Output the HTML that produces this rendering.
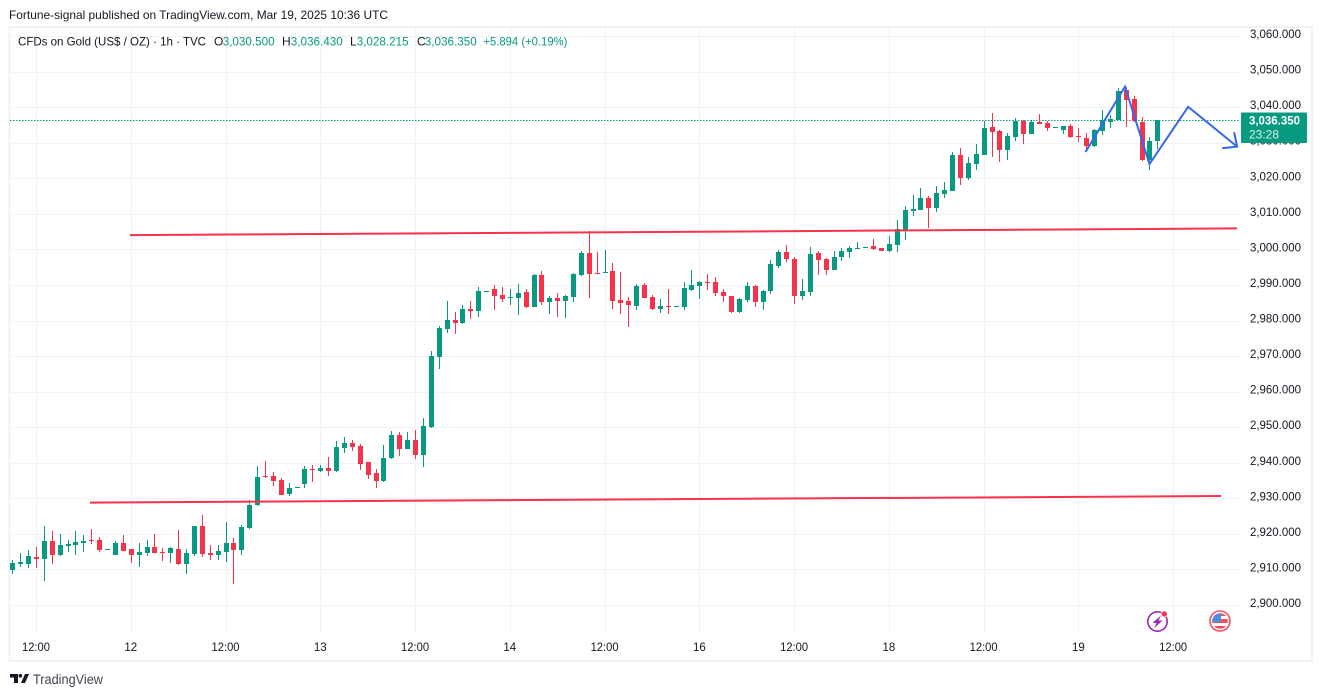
<!DOCTYPE html>
<html lang="en">
<head>
<meta charset="utf-8">
<title>CFDs on Gold 1h chart</title>
<style>
html,body{margin:0;padding:0;background:#fff;width:1322px;height:697px;overflow:hidden}
svg{display:block;font-family:"Liberation Sans",sans-serif}
text{fill:#131722}
</style>
</head>
<body>
<svg id="chart" width="1322" height="697" viewBox="0 0 1322 697" xmlns="http://www.w3.org/2000/svg">
  <rect x="0" y="0" width="1322" height="697" fill="#ffffff"/>
  <text x="9" y="19" font-size="12" textLength="379" lengthAdjust="spacingAndGlyphs">Fortune-signal published on TradingView.com, Mar 19, 2025 10:36 UTC</text>
  <rect x="9.5" y="27" width="1302.5" height="634" fill="none" stroke="#f0f2f5" stroke-width="2"/>
  <g id="grid"></g>
  <g id="priceAxis"></g>
  <g id="timeAxis"></g>
  <g id="lastLine"></g>
  <g id="candles"></g>
  <g id="drawings"></g>
  <g id="lastTag"></g>

  <g font-size="12">
    <text x="18" y="45.5" textLength="188" lengthAdjust="spacingAndGlyphs">CFDs on Gold (US$ / OZ) · 1h · TVC</text>
    <text x="214" y="45.5">O</text>
    <text x="222.7" y="45.5" style="fill:#089981" textLength="52" lengthAdjust="spacingAndGlyphs">3,030.500</text>
    <text x="282" y="45.5">H</text>
    <text x="290.8" y="45.5" style="fill:#089981" textLength="52" lengthAdjust="spacingAndGlyphs">3,036.430</text>
    <text x="350" y="45.5">L</text>
    <text x="356.7" y="45.5" style="fill:#089981" textLength="52" lengthAdjust="spacingAndGlyphs">3,028.215</text>
    <text x="417" y="45.5">C</text>
    <text x="424.8" y="45.5" style="fill:#089981" textLength="52" lengthAdjust="spacingAndGlyphs">3,036.350</text>
    <text x="483.4" y="45.5" style="fill:#089981" textLength="84" lengthAdjust="spacingAndGlyphs">+5.894 (+0.19%)</text>
  </g>

  <g>
    <circle cx="1157.5" cy="621.5" r="9.7" fill="#fff" stroke="#9c27b0" stroke-width="1.6"/>
    <polygon points="1161,615.5 1152.5,623 1156.5,623 1154.5,628 1162.5,620.5 1158.5,620.5" fill="#9c27b0"/>
    <circle cx="1164.3" cy="614" r="3" fill="#f6334a" stroke="#fff" stroke-width="0.6"/>
  </g>
  <g>
    <clipPath id="flagClip"><circle cx="1220" cy="621" r="7.8"/></clipPath>
    <circle cx="1220" cy="621" r="10" fill="#fff" stroke="#f6505f" stroke-width="1.6"/>
    <g clip-path="url(#flagClip)">
      <rect x="1212" y="613" width="16" height="3" fill="#f6505f"/>
      <rect x="1212" y="619" width="16" height="4" fill="#f6505f"/>
      <rect x="1212" y="626" width="16" height="4" fill="#f6505f"/>
      <rect x="1212" y="613" width="9" height="9" fill="#4a90e2"/>
    </g>
  </g>

  <g>
    <polygon points="10,674 18,674 18,683 14,683 14,677.5 10,677.5" fill="#131722"/>
    <circle cx="20.4" cy="675.8" r="1.8" fill="#131722"/>
    <polygon points="25,674 29,674 25,683 21,683" fill="#131722"/>
    <text x="33" y="684" font-size="13.5" style="fill:#3f4450" textLength="70" lengthAdjust="spacingAndGlyphs">TradingView</text>
  </g>
</svg>
<script>
const opens=[2909.8,2911.5,2911.5,2913.5,2912.9,2918.0,2914.1,2916.6,2916.9,2917.4,
2918.3,2918.3,2915.5,2914.1,2917.4,2915.7,2914.1,2914.6,2916.3,2914.9,
2914.6,2915.7,2911.5,2914.3,2922.2,2914.6,2914.1,2914.9,2917.4,2915.5,
2921.7,2928.1,2936.3,2936.3,2935.2,2931.2,2932.9,2934.0,2938.2,2937.7,
2938.5,2937.7,2944.2,2945.6,2944.7,2940.2,2937.1,2934.9,2941.3,2947.8,
2943.9,2946.4,2942.2,2950.1,2969.7,2977.6,2980.1,2979.3,2983.2,2982.7,
2988.0,2988.9,2987.2,2986.3,2986.3,2988.0,2983.8,2992.8,2985.2,2986.3,
2985.5,2986.6,2992.8,2999.0,2993.4,2993.4,2993.9,2985.8,2985.5,2984.1,
2990.0,2986.6,2983.2,2984.1,2983.8,2983.8,2988.6,2989.7,2990.8,2990.8,
2988.0,2986.9,2982.4,2985.8,2989.7,2985.2,2988.3,2995.3,2999.3,2997.3,
2986.9,2988.0,2999.0,2997.3,2994.2,2997.9,2999.3,3000.1,3000.4,3000.9,
3000.4,2999.5,3001.2,3005.4,3010.8,3011.1,3014.4,3011.6,3015.6,3016.4,
3026.5,3020.1,3024.0,3026.5,3034.4,3033.3,3027.9,3031.6,3036.1,3032.4,
3035.8,3035.5,3034.1,3033.6,3034.7,3031.9,3031.3,3029.1,3033.3,3035.8,
3036.4,3044.8,3042.3,3035.8,3025.1,3030.5];
const highs=[2912.7,2914.6,2915.5,2916.3,2922.2,2920.8,2920.0,2918.3,2920.8,2919.7,
2921.4,2919.1,2915.8,2918.0,2919.7,2915.7,2917.4,2918.3,2920.0,2916.0,
2916.3,2921.1,2915.7,2922.2,2925.3,2916.9,2916.9,2923.3,2918.8,2922.5,
2929.5,2939.1,2940.5,2937.4,2935.7,2934.3,2933.2,2939.1,2939.4,2939.4,
2941.6,2946.1,2947.2,2946.4,2945.3,2940.2,2938.2,2945.0,2948.9,2948.6,
2948.6,2949.2,2952.6,2971.4,2978.5,2985.5,2982.4,2984.4,2985.5,2989.4,
2988.3,2990.0,2989.4,2988.9,2990.3,2988.9,2993.1,2993.9,2986.9,2987.7,
2987.2,2993.4,2999.5,3005.2,2999.3,2999.8,2996.2,2993.6,2986.6,2990.3,
2990.5,2987.2,2986.0,2988.9,2984.1,2990.8,2994.2,2991.1,2993.1,2992.2,
2988.9,2986.9,2986.3,2990.8,2990.0,2988.6,2997.0,2999.8,3001.2,2997.9,
2991.7,3000.7,2999.5,2997.6,2999.5,3000.4,3000.9,3002.1,3000.7,3002.9,
3000.4,3003.8,3008.3,3012.2,3015.3,3017.3,3015.0,3017.8,3018.9,3027.4,
3028.5,3026.0,3029.6,3036.1,3038.3,3033.6,3032.7,3036.9,3036.4,3036.4,
3038.1,3036.1,3034.4,3034.7,3035.3,3034.1,3032.7,3033.8,3039.2,3037.8,
3045.4,3045.7,3043.1,3037.2,3031.7,3036.43];
const lows=[2908.7,2910.7,2910.4,2910.4,2906.8,2911.5,2913.8,2914.9,2914.1,2914.9,
2917.2,2914.9,2915.5,2914.1,2915.2,2911.8,2910.7,2913.8,2914.6,2912.4,
2911.8,2911.3,2908.7,2913.8,2913.5,2912.7,2912.7,2912.1,2905.9,2914.1,
2921.4,2927.8,2935.7,2933.5,2930.9,2930.7,2932.9,2932.9,2934.6,2937.4,
2936.3,2937.4,2942.7,2943.3,2938.0,2935.4,2932.9,2934.6,2941.1,2941.9,
2943.9,2941.1,2938.8,2949.8,2966.4,2976.5,2976.2,2979.0,2980.4,2981.0,
2988.0,2983.0,2985.2,2984.4,2981.5,2983.5,2983.8,2984.4,2981.8,2981.0,
2980.7,2985.2,2992.5,2986.3,2993.1,2993.4,2983.2,2981.8,2978.2,2983.0,
2986.3,2983.0,2982.1,2981.8,2983.8,2983.0,2988.3,2986.0,2988.6,2986.9,
2985.2,2982.1,2982.1,2985.2,2983.8,2983.0,2987.5,2994.8,2996.4,2984.6,
2985.8,2986.9,2992.8,2992.8,2994.2,2996.7,2997.6,3000.1,3000.4,2999.8,
2999.5,2999.3,2999.3,3002.6,3009.4,3011.1,3006.0,3010.5,3014.4,3016.4,
3018.1,3019.5,3022.3,3026.5,3026.0,3024.6,3025.1,3030.5,3029.6,3032.4,
3035.3,3033.3,3034.1,3032.4,3031.3,3030.2,3027.4,3028.9,3032.2,3034.1,
3036.4,3034.5,3035.8,3024.9,3022.3,3028.215];
const closes=[2911.8,2912.1,2913.8,2912.9,2918.0,2914.1,2916.9,2917.2,2917.7,2918.0,
2918.1,2915.5,2915.8,2917.4,2915.2,2914.1,2914.9,2916.3,2914.6,2914.7,
2916.0,2911.5,2914.6,2922.2,2914.3,2914.1,2915.2,2917.4,2915.5,2921.9,
2928.1,2936.0,2936.0,2934.9,2930.9,2932.9,2933.2,2938.2,2938.0,2938.5,
2937.7,2944.4,2945.6,2944.4,2939.7,2936.6,2934.9,2941.3,2947.8,2943.9,
2946.4,2942.2,2950.3,2970.0,2977.9,2980.1,2979.3,2983.2,2982.7,2988.3,
2988.3,2986.9,2986.0,2986.6,2987.7,2983.8,2992.8,2985.2,2986.3,2985.5,
2986.9,2993.1,2999.0,2993.1,2993.1,2993.6,2985.5,2984.9,2984.4,2989.7,
2986.3,2983.2,2984.1,2983.8,2984.1,2989.1,2990.0,2990.8,2990.5,2987.7,
2986.9,2982.4,2986.0,2989.7,2985.2,2988.3,2995.9,2999.3,2997.3,2986.9,
2988.3,2998.7,2997.0,2994.2,2997.9,2999.5,3000.4,3000.4,3000.7,3000.1,
2999.5,3001.5,3005.7,3011.1,3011.4,3014.4,3011.6,3015.8,3016.7,3026.5,
3020.1,3024.3,3026.8,3034.1,3033.0,3027.9,3031.9,3036.1,3032.4,3035.8,
3035.3,3034.1,3034.4,3034.7,3031.6,3031.6,3029.1,3033.6,3036.4,3036.7,
3044.5,3042.0,3036.1,3025.1,3030.5,3036.35];

const priceTicks=[2900,2910,2920,2930,2940,2950,2960,2970,2980,2990,3000,3010,3020,3030,3040,3050,3060];
const timeTickBars=[3,15,27,39,51,63,75,87,99,111,123,135,147];
const timeTickLabels=['12:00','12','12:00','13','12:00','14','12:00','16','12:00','18','12:00','19','12:00'];
const countdownLabel='23:28';

/* Trend lines drawn on the chart, in [bar, price] chart coordinates */
const supportLineBars=[9.84,153.06];
const supportLinePrices=[2928.8,2930.65];
const resistanceLineBars=[14.9,155.1];
const resistanceLinePrices=[3004.0,3005.9];
const forecastBars=[135.9,140.9,144.0,148.9,155.1];
const forecastPrices=[3027.4,3045.75,3024.0,3040.1,3028.9];

const GREEN='#089981', RED='#f6334a', GRID='#f1f2f4', BLUE='#3468f0';
const NS='http://www.w3.org/2000/svg';

function xScale(bar){ return 12.3 + bar*7.897; }
function yScale(price){ return 605 - (price-2900)*3.556; }
function fmtPrice(p){ return p.toLocaleString('en-US',{minimumFractionDigits:3,maximumFractionDigits:3}); }
function make(parent,tag,attrs,text){
  const el=document.createElementNS(NS,tag);
  for(const k in attrs){ el.setAttribute(k,attrs[k]); }
  if(text!==undefined){ el.textContent=text; }
  parent.appendChild(el);
  return el;
}

const grid=document.getElementById('grid');
const priceAxis=document.getElementById('priceAxis');
const timeAxis=document.getElementById('timeAxis');
const lastLine=document.getElementById('lastLine');
const candles=document.getElementById('candles');
const drawings=document.getElementById('drawings');
const lastTag=document.getElementById('lastTag');

priceTicks.forEach(function(p){
  const y=yScale(p);
  const line=make(grid,'line',{x1:10,x2:1240,y1:Math.round(y)+0.5,y2:Math.round(y)+0.5,stroke:GRID,'stroke-width':1});
  
  
  const label=make(priceAxis,'text',{x:1250,y:y+2,'font-size':11.5,textLength:51,lengthAdjust:'spacingAndGlyphs'},fmtPrice(p));
  
  
});

timeTickBars.forEach(function(b,i){
  const x=xScale(b);
  const line=make(grid,'line',{x1:Math.round(x)+0.5,x2:Math.round(x)+0.5,y1:28,y2:634,stroke:GRID,'stroke-width':1});
  
  
  const txt=timeTickLabels[i];
  const attrs={x:x,y:651,'font-size':11.5,'text-anchor':'middle'};
  if(txt.length>2){ attrs.textLength=28; attrs.lengthAdjust='spacingAndGlyphs'; }
  const label=make(timeAxis,'text',attrs,txt);
  
  
});

const lastClose=closes[closes.length-1];
const lastY=Math.round(yScale(lastClose))+0.5;
const dotted=make(lastLine,'line',{x1:10,x2:1240,y1:lastY,y2:lastY,stroke:GREEN,'stroke-width':1,'stroke-dasharray':'1.5 1.5'});



opens.forEach(function(o,i){
  const c=closes[i];
  const col=c>=o?GREEN:RED;
  const xc=Math.round(xScale(i));
  const top=Math.round(yScale(Math.max(o,c)));
  const bot=Math.round(yScale(Math.min(o,c)));
  const wt=Math.round(yScale(highs[i]));
  const wb=Math.round(yScale(lows[i]));
  if(wb>wt){
    const wick=make(candles,'rect',{x:xc,y:wt,width:1,height:wb-wt,fill:col});
    
    
  }
  const body=make(candles,'rect',{x:xc-2,y:top,width:5,height:Math.max(1,bot-top),fill:col});
  
  
});

const support=make(drawings,'line',{x1:xScale(supportLineBars[0]),y1:yScale(supportLinePrices[0]),x2:xScale(supportLineBars[1]),y2:yScale(supportLinePrices[1]),stroke:RED,'stroke-width':2});


const resistance=make(drawings,'line',{x1:xScale(resistanceLineBars[0]),y1:yScale(resistanceLinePrices[0]),x2:xScale(resistanceLineBars[1]),y2:yScale(resistanceLinePrices[1]),stroke:RED,'stroke-width':2});



const fx=forecastBars.map(xScale);
const fy=forecastPrices.map(yScale);
const forecastPts=fx.map(function(x,i){ return x+','+fy[i]; }).join(' ');
const forecast=make(drawings,'polyline',{points:forecastPts,fill:'none',stroke:BLUE,'stroke-width':2,'stroke-linejoin':'miter'});


const tipX=fx[fx.length-1], tipY=fy[fy.length-1];

const tag=make(lastTag,'rect',{x:1241,y:lastY-8,width:66,height:30.5,rx:1,fill:GREEN});


const tagPrice=make(lastTag,'text',{x:1249,y:lastY+4,'font-size':11.5,'font-weight':'bold',textLength:51,lengthAdjust:'spacingAndGlyphs',style:'fill:#ffffff'},fmtPrice(lastClose));


const tagCount=make(lastTag,'text',{x:1249,y:lastY+18,'font-size':11.5,textLength:30,lengthAdjust:'spacingAndGlyphs',style:'fill:#d5f0ea'},countdownLabel);



const head=make(lastTag,'polyline',{points:(tipX-15)+','+(tipY+1.6)+' '+tipX+','+tipY+' '+(tipX-3)+','+(tipY-14.4),fill:'none',stroke:BLUE,'stroke-width':2});


</script>
</body>
</html>
